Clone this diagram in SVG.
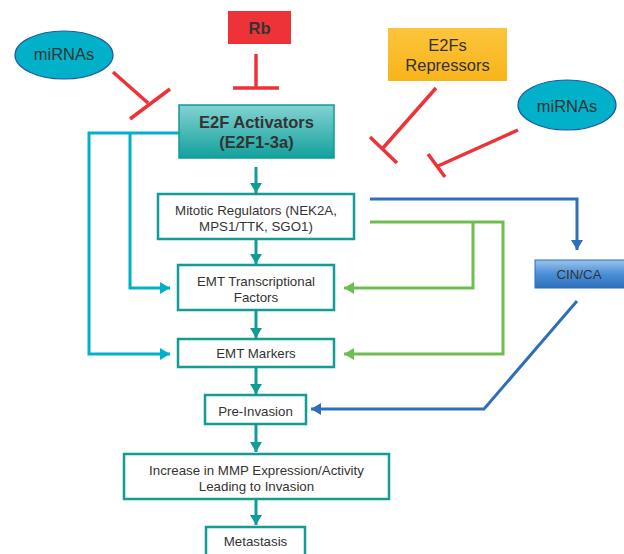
<svg xmlns="http://www.w3.org/2000/svg" width="624" height="554" viewBox="0 0 624 554">
<defs>
<style>
.box{fill:#fff;stroke:#129c96;stroke-width:2.5}
.t{font-family:"Liberation Sans",Arial,sans-serif;font-size:13.3px;fill:#333;text-anchor:middle}
.big{font-family:"Liberation Sans",Arial,sans-serif;font-size:16.5px;fill:#333;text-anchor:middle}
.b{font-weight:bold}
.red{stroke:#ee3338;stroke-width:3.5;fill:none}
.teal{stroke:#129c96;stroke-width:3;fill:none}
.cyan{stroke:#00b1c9;stroke-width:3;fill:none}
.green{stroke:#6cbf4e;stroke-width:3;fill:none}
.blue{stroke:#2e6fba;stroke-width:3;fill:none}
</style>
<linearGradient id="gE2F" x1="0" y1="0" x2="0" y2="1">
<stop offset="0" stop-color="#84d2d3"/><stop offset="1" stop-color="#12a19c"/>
</linearGradient>
<linearGradient id="gRep" x1="0" y1="0" x2="0" y2="1">
<stop offset="0" stop-color="#fdc43c"/><stop offset="1" stop-color="#f8b41a"/>
</linearGradient>
<linearGradient id="gCin" x1="0" y1="0" x2="0" y2="1">
<stop offset="0" stop-color="#9cc4ec"/><stop offset="0.5" stop-color="#4a8fd6"/><stop offset="1" stop-color="#2e6fba"/>
</linearGradient>
<marker id="aTeal" markerUnits="userSpaceOnUse" markerWidth="12" markerHeight="12" refX="10" refY="6" orient="auto"><path d="M0,0 L10,6 L0,12 z" fill="#129c96"/></marker>
<marker id="aCyan" markerUnits="userSpaceOnUse" markerWidth="12" markerHeight="12" refX="10" refY="6" orient="auto"><path d="M0,0 L10,6 L0,12 z" fill="#00b1c9"/></marker>
<marker id="aGreen" markerUnits="userSpaceOnUse" markerWidth="12" markerHeight="12" refX="10" refY="6" orient="auto"><path d="M0,0 L10,6 L0,12 z" fill="#6cbf4e"/></marker>
<marker id="aBlue" markerUnits="userSpaceOnUse" markerWidth="12" markerHeight="12" refX="10" refY="6" orient="auto"><path d="M0,0 L10,6 L0,12 z" fill="#2e6fba"/></marker>
</defs>
<rect width="624" height="554" fill="#fff"/>
<g id="connectors">
<path class="red" d="M256,54 V88 M233,88 H279"/>
<path class="red" d="M113,72 L148,103 M130,119 L170,89"/>
<path class="red" d="M436,88 L383,148 M370,137 L397,163"/>
<path class="red" d="M518,130 L438,166 M428,154 L445,177"/>
<path class="cyan" d="M179,133 H89 V354 H170" marker-end="url(#aCyan)"/>
<path class="cyan" d="M130,133 V288 H170" marker-end="url(#aCyan)"/>
<path class="teal" d="M256,167 V193" marker-end="url(#aTeal)"/>
<path class="teal" d="M256,240 V264" marker-end="url(#aTeal)"/>
<path class="teal" d="M256,311 V338" marker-end="url(#aTeal)"/>
<path class="teal" d="M256,368 V394" marker-end="url(#aTeal)"/>
<path class="teal" d="M256,425 V452" marker-end="url(#aTeal)"/>
<path class="teal" d="M256,500 V525" marker-end="url(#aTeal)"/>
<path class="blue" d="M370,199 H577 V250" marker-end="url(#aBlue)"/>
<path class="blue" d="M577,301 L484,409 H311" marker-end="url(#aBlue)"/>
<path class="green" d="M370,222 H503 V354 H344" marker-end="url(#aGreen)"/>
<path class="green" d="M473,222 V288 H344" marker-end="url(#aGreen)"/>
</g>
<g id="rb"><rect x="228" y="11" width="63" height="33" fill="#ee3338"/><text class="big b" x="259.5" y="34">Rb</text></g>
<g id="mirna-left"><ellipse cx="64" cy="55" rx="49" ry="24" fill="#00b1c9" stroke="#1f5aa0" stroke-width="1.2"/><text class="big" x="64" y="60">miRNAs</text></g>
<g id="repressors"><rect x="388" y="28" width="119" height="53" fill="url(#gRep)"/><text class="big" x="447.5" y="51">E2Fs</text><text class="big" x="447.5" y="71">Repressors</text></g>
<g id="mirna-right"><ellipse cx="567" cy="105" rx="49" ry="25" fill="#00b1c9" stroke="#1f5aa0" stroke-width="1.2"/><text class="big" x="567" y="112">miRNAs</text></g>
<g id="e2f"><rect x="179" y="105" width="155" height="53" fill="url(#gE2F)" stroke="#129c96" stroke-width="1.5"/><text class="big b" x="256.5" y="128">E2F Activators</text><text class="big b" x="256.5" y="148">(E2F1-3a)</text></g>
<g id="mitotic"><rect class="box" x="158" y="194" width="196" height="45"/><text class="t" x="256" y="215">Mitotic Regulators (NEK2A,</text><text class="t" x="256" y="231">MPS1/TTK, SGO1)</text></g>
<g id="emt-tf"><rect class="box" x="178" y="265" width="156" height="45"/><text class="t" x="256" y="286">EMT Transcriptional</text><text class="t" x="256" y="302">Factors</text></g>
<g id="emt-markers"><rect class="box" x="178" y="339" width="156" height="28"/><text class="t" x="256" y="358">EMT Markers</text></g>
<g id="cin"><rect x="535" y="260" width="90" height="28" fill="url(#gCin)" stroke="#2e6fba" stroke-width="1"/><text class="t" x="579" y="279">CIN/CA</text></g>
<g id="pre-invasion"><rect class="box" x="205" y="395" width="101" height="29"/><text class="t" x="255.5" y="416">Pre-Invasion</text></g>
<g id="mmp"><rect class="box" x="124" y="454" width="265" height="45"/><text class="t" x="256.5" y="475">Increase in MMP Expression/Activity</text><text class="t" x="256.5" y="491">Leading to Invasion</text></g>
<g id="metastasis"><rect class="box" x="206" y="527" width="99" height="40"/><text class="t" x="255.5" y="546">Metastasis</text></g>
</svg>
